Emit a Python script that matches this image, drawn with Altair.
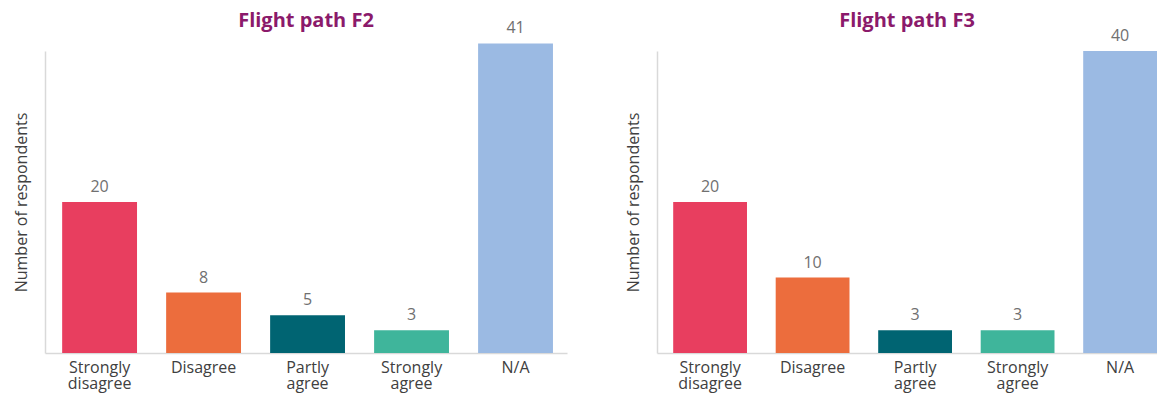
import altair as alt
import pandas as pd

categories = ["Strongly disagree", "Disagree", "Partly agree", "Strongly agree", "N/A"]
f2_values = [20, 8, 5, 3, 41]
f3_values = [20, 10, 3, 3, 40]
colors = ["#E83E5F", "#EC6D3D", "#006472", "#3FB59B", "#9BBAE3"]
titles = ["Flight path F2", "Flight path F3"]

AXIS_COLOR = "#d9d9d9"
TEXT_COLOR = "#404040"
FONT = "Open Sans"


def panel(values, title, width, align, pad_outer, title_dy):
    df = pd.DataFrame({"category": categories, "value": values})
    x = alt.X(
        "category:N",
        sort=categories,
        scale=alt.Scale(paddingInner=0.28, paddingOuter=pad_outer, align=align),
        axis=alt.Axis(
            title=None, labelAngle=0, labelExpr="split(datum.label, ' ')",
            ticks=False, labelPadding=6, labelLineHeight=16, labelFontSize=16,
            labelColor=TEXT_COLOR, labelFont=FONT, domainColor=AXIS_COLOR,
            domainWidth=1.5,
        ),
    )
    y = alt.Y(
        "value:Q",
        scale=alt.Scale(domain=[0, 40], nice=False, zero=True),
        axis=alt.Axis(
            title="Number of respondents", labels=False, ticks=False, grid=False,
            domainColor=AXIS_COLOR, domainWidth=1.5, titleFontSize=16,
            titleFontWeight="normal", titleColor=TEXT_COLOR, titleFont=FONT,
            titlePadding=16,
        ),
    )
    bars = alt.Chart(df).mark_bar().encode(
        x=x,
        y=y,
        color=alt.Color("category:N", scale=alt.Scale(domain=categories, range=colors), legend=None),
    )
    text = alt.Chart(df).mark_text(
        baseline="alphabetic", dy=-10, fontSize=16, color="#707070", font=FONT
    ).encode(
        x=alt.X("category:N", sort=categories),
        y="value:Q",
        text="value:Q",
    )
    return alt.layer(bars, text).properties(
        width=width,
        height=302,
        title=alt.TitleParams(
            title, fontSize=20, font=FONT, fontWeight="bold", color="#8B1A6B",
            baseline="alphabetic", offset=24, anchor="middle", dy=title_dy,
        ),
    )


left = panel(f2_values, titles[0], 522, 0.55, 0.15, 51)
right = panel(f3_values, titles[1], 500, 1.0, 0.079, 43)

chart = alt.hconcat(left, right, spacing=58).properties(
    padding={"left": 5, "top": 3, "right": 0, "bottom": 12}
).configure_view(stroke=None)

chart.save("out.html", embed_options={"renderer": "svg", "actions": False})
